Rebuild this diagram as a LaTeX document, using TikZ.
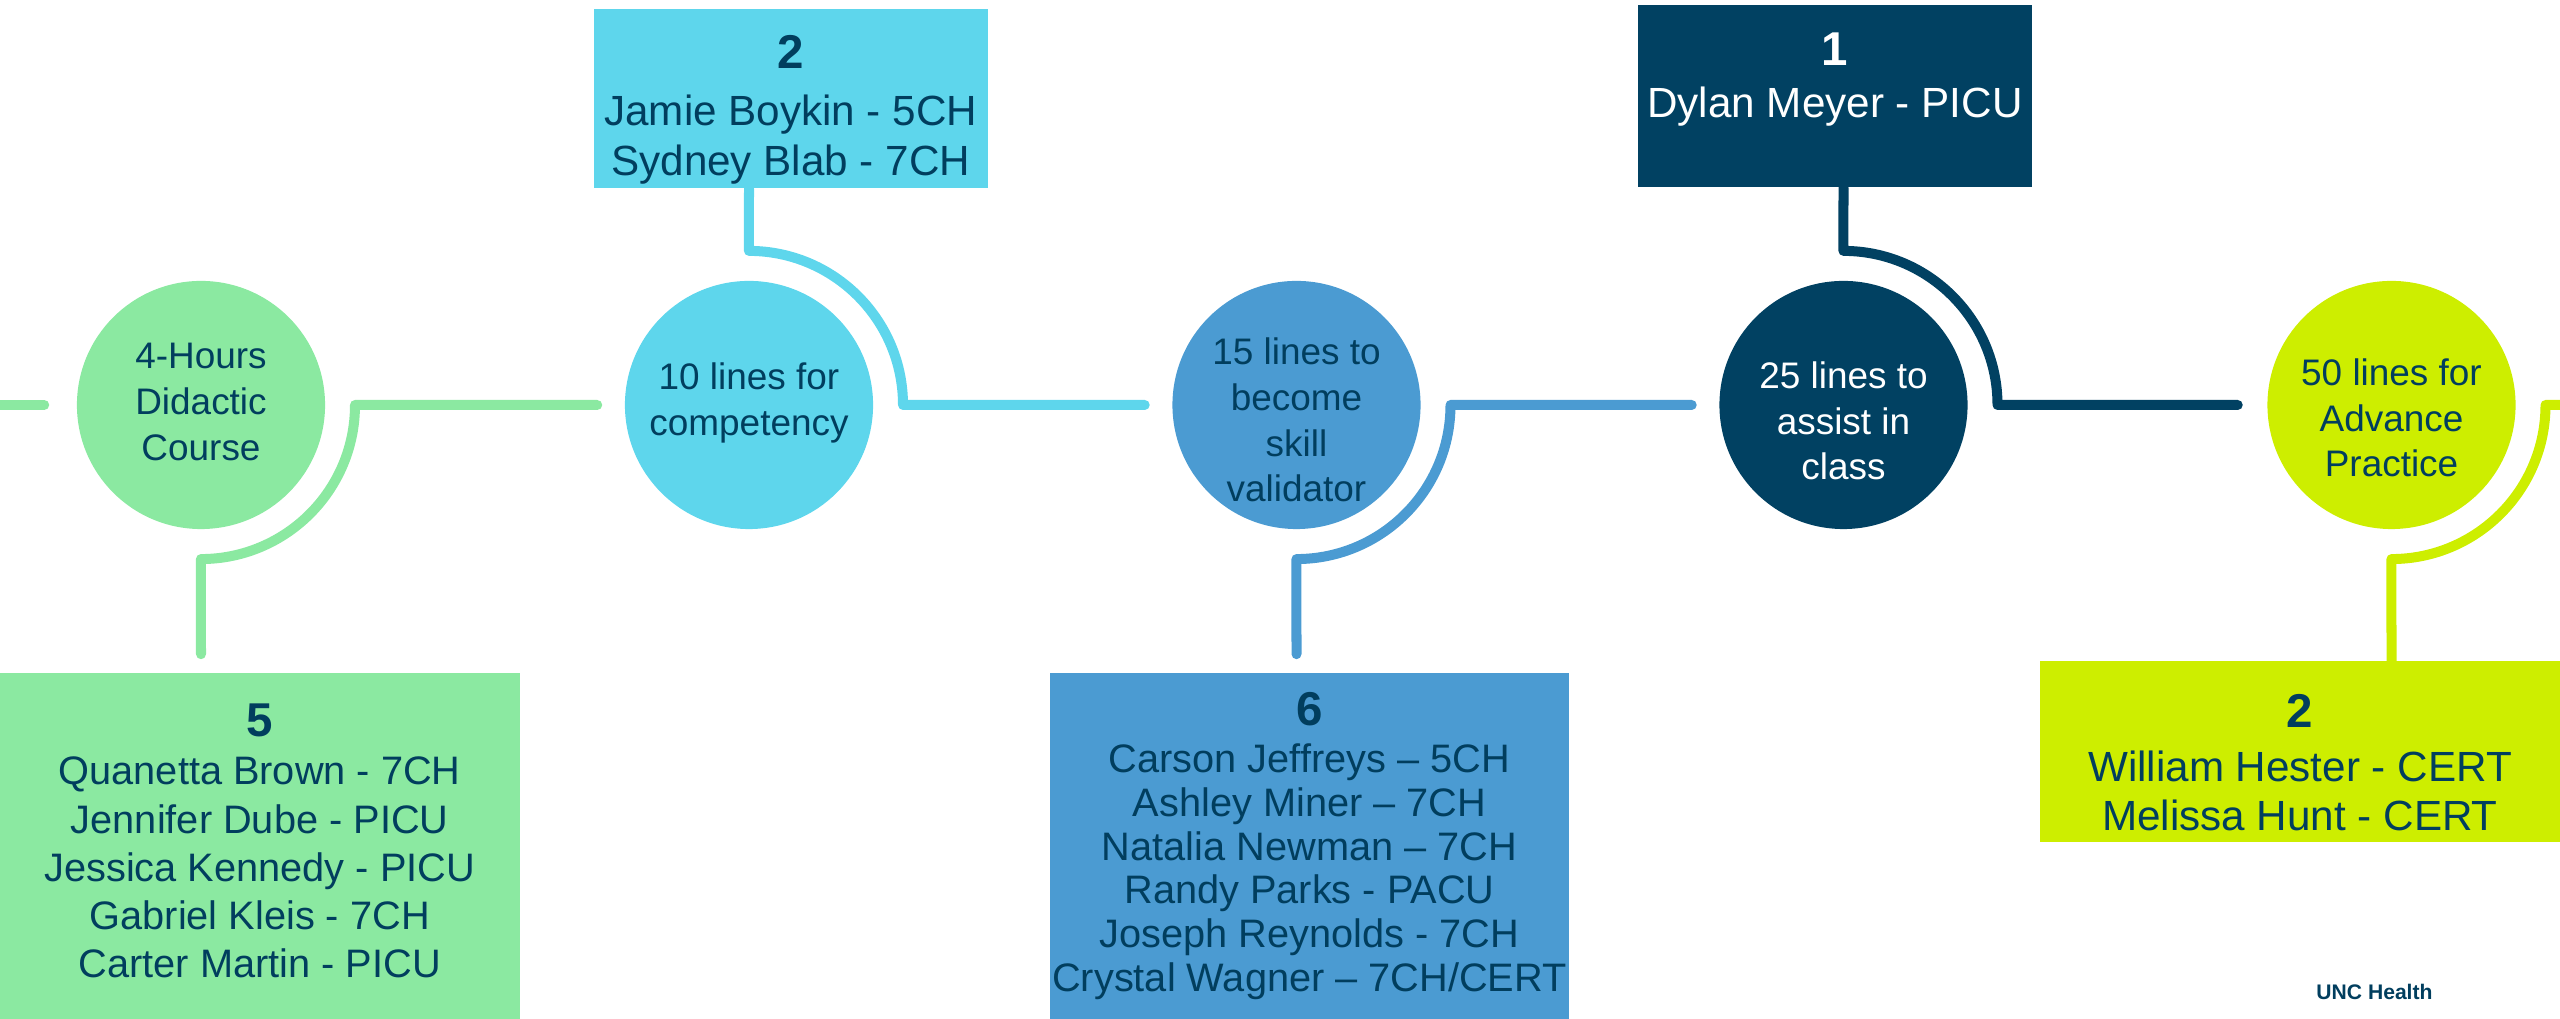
\documentclass[tikz,border=0pt]{standalone}
\usepackage{fontspec}
\setmainfont{Liberation Sans}
\usetikzlibrary{calc}

\definecolor{greenc}{RGB}{139,233,161}
\definecolor{cyanc}{RGB}{94,214,236}
\definecolor{bluec}{RGB}{75,155,210}
\definecolor{navyc}{RGB}{1,65,98}
\definecolor{limec}{RGB}{205,238,0}
\definecolor{txtc}{RGB}{1,62,94}

\newcommand{\boxcount}[1]{{\fontsize{13.5}{16}\selectfont\bfseries #1}}

\tikzset{
  dot/.style={circle, minimum size=2.48cm, inner sep=0pt},
  ctext/.style={align=center, text=txtc, inner sep=0pt, font=\fontsize{10.5}{13}\selectfont},
  card/.style={rectangle, inner sep=0pt, align=center, text=txtc},
  track/.style={line width=0.1cm, line cap=round, line join=round},
}

\begin{document}
\begin{tikzpicture}[x=0.01cm, y=0.01cm]
  \useasboundingbox (0,0) rectangle (2560,1019);

  % steps
  \node[dot, fill=greenc, label={[ctext, yshift=0.03cm]center:4-Hours\\Didactic\\Course}] (c1) at (201,614) {};
  \node[dot, fill=cyanc, label={[ctext, yshift=0.02cm]center:10 lines for\\competency}] (c2) at (749,614) {};
  \node[dot, fill=bluec, label={[ctext, yshift=-0.15cm]center:15 lines to\\become\\skill\\validator}] (c3) at (1296.5,614) {};
  \node[dot, fill=navyc, label={[ctext, text=white, yshift=-0.16cm]center:25 lines to\\assist in\\class}] (c4) at (1843.5,614) {};
  \node[dot, fill=limec, label={[ctext, yshift=-0.13cm]center:50 lines for\\Advance\\Practice}] (c5) at (2391.5,614) {};

  % name boxes
  \node[card, fill=greenc, minimum width=5.2cm, minimum height=3.46cm,
    label={[card, yshift=0.05cm, font=\fontsize{11.3}{13.7}\selectfont]center:\boxcount{5}\\Quanetta Brown - 7CH\\Jennifer Dube - PICU\\Jessica Kennedy - PICU\\Gabriel Kleis - 7CH\\Carter Martin - PICU}] (b1) at (259.75,173) {};
  \node[card, fill=cyanc, minimum width=3.935cm, minimum height=1.79cm,
    label={[card, yshift=-0.11cm, font=\fontsize{12}{14.2}\selectfont]center:\boxcount{2}\\[2pt]Jamie Boykin - 5CH\\Sydney Blab - 7CH}] (b2) at (790.75,920.5) {};
  \node[card, fill=bluec, minimum width=5.19cm, minimum height=3.46cm,
    label={[card, font=\fontsize{11.3}{12.4}\selectfont]center:\boxcount{6}\\[1pt]Carson Jeffreys -- 5CH\\Ashley Miner -- 7CH\\Natalia Newman -- 7CH\\Randy Parks - PACU\\Joseph Reynolds - 7CH\\Crystal Wagner -- 7CH/CERT}] (b3) at (1309.5,173) {};
  \node[card, fill=navyc, minimum width=3.94cm, minimum height=1.82cm,
    label={[card, text=white, anchor=north, yshift=-0.28cm, font=\fontsize{12}{14.2}\selectfont]north:\boxcount{1}\\[0.6pt]Dylan Meyer - PICU}] (b4) at (1835,923) {};
  \node[card, fill=limec, minimum width=5.2cm, minimum height=1.805cm,
    label={[card, yshift=-0.11cm, font=\fontsize{12}{14}\selectfont]center:\boxcount{2}\\[1.2pt]William Hester - CERT\\Melissa Hunt - CERT}] (b5) at (2300,267.25) {};

  \node[font=\fontsize{6}{7}\selectfont\bfseries, text=txtc] (brand) at (2374.5,27) {UNC Health};

  % timeline
  \coordinate (lead) at (-20,614);
  \coordinate (tail) at (2600,614);
  \draw[track, greenc] (lead) -- ($(c1.west)+(-32,0)$);
  \draw[track, greenc] ($(c2.west)+(-27,0)$) -- ($(c1.center)+(154,0)$)
    arc[start angle=0, end angle=-90, radius=1.54cm] -- ($(c1 |- b1.north)+(0,18)$);
  \draw[track, cyanc] ($(c3.west)+(-27,0)$) -- ($(c2.center)+(154,0)$)
    arc[start angle=0, end angle=90, radius=1.54cm] -- (c2 |- b2.south);
  \draw[track, bluec] ($(c4.west)+(-27,0)$) -- ($(c3.center)+(154,0)$)
    arc[start angle=0, end angle=-90, radius=1.54cm] -- ($(c3 |- b3.north)+(0,18)$);
  \draw[track, navyc] ($(c5.west)+(-29,0)$) -- ($(c4.center)+(154,0)$)
    arc[start angle=0, end angle=90, radius=1.54cm] -- (c4 |- b4.south);
  \draw[track, limec] (tail) -- ($(c5.center)+(154,0)$)
    arc[start angle=0, end angle=-90, radius=1.54cm] -- (c5 |- b5.north);
\end{tikzpicture}
\end{document}
